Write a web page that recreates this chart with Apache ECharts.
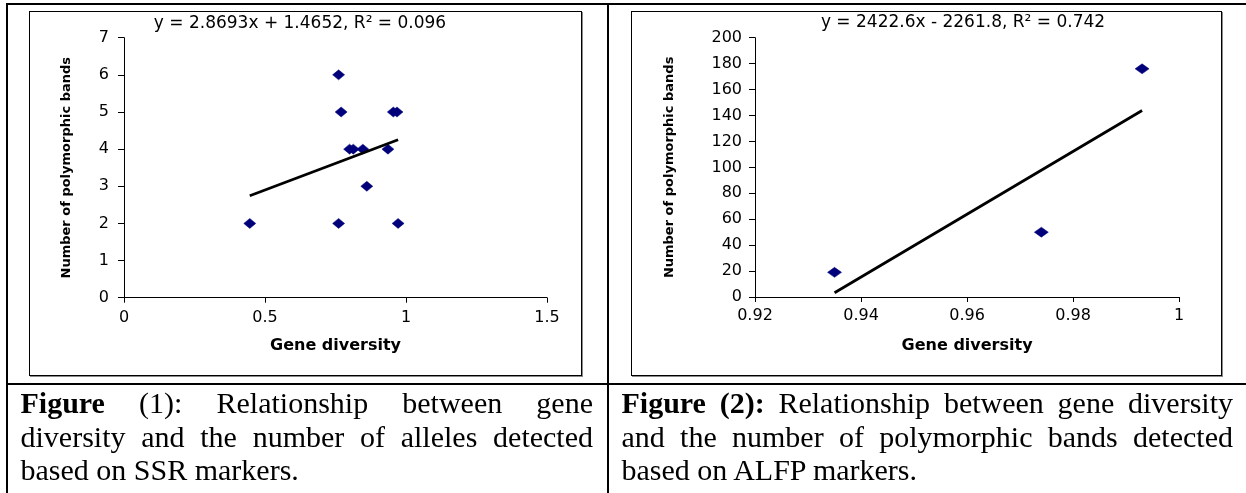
<!DOCTYPE html>
<html>
<head>
<meta charset="utf-8">
<script src="https://cdn.jsdelivr.net/npm/echarts@6/dist/echarts.min.js"></script>
<style>
  html, body { margin: 0; padding: 0; background: #fff; }
  body { width: 1246px; height: 493px; position: relative; overflow: hidden; }
  .ln { position: absolute; background: #000; }
  .frame { position: absolute; box-sizing: border-box; border: 1.6px solid #000; box-shadow: 1px 1px 0 #8a8a8a; }
  #chart { position: absolute; left: 0; top: 0; width: 1246px; height: 493px; z-index: 2; }
  .cap { position: absolute; font-family: "Liberation Serif", "Times New Roman", serif; font-size: 30px; line-height: 33.7px; color: #000; z-index: 3; }
  .cap .j { text-align: justify; text-align-last: justify; }
  .cap .l { text-align: left; }
</style>
</head>
<body>
<div class="ln" style="left:6px; top:3px; width:1240px; height:2px;"></div>
<div class="ln" style="left:6px; top:3px; width:2px; height:490px;"></div>
<div class="ln" style="left:606.5px; top:3px; width:2px; height:490px;"></div>
<div class="ln" style="left:6px; top:383px; width:1240px; height:2px;"></div>
<div class="frame" style="left:29px; top:11px; width:553px; height:365px;"></div>
<div class="frame" style="left:631px; top:11px; width:591px; height:365px;"></div>
<div id="chart"></div>
<div class="cap" style="left:20.5px; top:386px; width:572.5px;">
  <div class="j"><b>Figure</b> (1): Relationship between gene</div>
  <div class="j">diversity and the number of alleles detected</div>
  <div class="l">based on SSR markers.</div>
</div>
<div class="cap" style="left:621.5px; top:386px; width:611.5px;">
  <div class="j"><b>Figure (2):</b> Relationship between gene diversity</div>
  <div class="j">and the number of polymorphic bands detected</div>
  <div class="l">based on ALFP markers.</div>
</div>
<script>
// ---- Data ----
const ssrGeneDiversity = [0.446, 0.761, 0.770, 0.955, 0.968, 0.800, 0.813, 0.847, 0.936, 0.861, 0.761, 0.972];
const ssrBands = [2, 6, 5, 5, 5, 4, 4, 4, 4, 3, 2, 2];
const aflpGeneDiversity = [0.935, 0.974, 0.993];
const aflpBands = [19, 50, 176];
const trendSlope = [2.8693, 2422.6];
const trendIntercept = [1.4652, -2261.8];
const trendR2 = ['0.096', '0.742'];
const xAxisMin = [0, 0.92];
const xAxisMax = [1.5, 1.0];
const xAxisStep = [0.5, 0.02];
const yAxisMin = [0, 0];
const yAxisMax = [7, 200];
const yAxisStep = [1, 20];
const xAxisTitle = 'Gene diversity';
const yAxisTitle = 'Number of polymorphic bands';

// ---- Build ----
const xs = [ssrGeneDiversity, aflpGeneDiversity];
const ys = [ssrBands, aflpBands];

function pairs(a, b) { return a.map((v, i) => [v, b[i]]); }
function trend(k) {
  const lo = Math.min(...xs[k]), hi = Math.max(...xs[k]);
  return [lo, hi].map(x => [x, trendSlope[k] * x + trendIntercept[k]]);
}
function eqText(k) {
  const b = trendIntercept[k];
  return 'y = ' + trendSlope[k] + 'x ' + (b < 0 ? '- ' : '+ ') + Math.abs(b) + ', R² = ' + trendR2[k];
}

const tickFont = { color: '#000', fontFamily: 'DejaVu Sans', fontSize: 16 };
const nameFont = { color: '#000', fontFamily: 'DejaVu Sans', fontWeight: 'bold' };

const grids = [
  { left: 124, top: 37.7, width: 423, height: 260 },
  { left: 755, top: 37.7, width: 424.2, height: 259.3 }
];
const xNameGap = [40, 41];
const yNameGap = [51, 79];
const xLabelMargin = [12, 11];
const yLabelMargin = [15, 13];
const symSizes = [[12, 10], [14, 10]];

const option = {
  animation: false,
  backgroundColor: 'transparent',
  grid: grids,
  xAxis: [0, 1].map(k => ({
    type: 'value', gridIndex: k,
    min: xAxisMin[k], max: xAxisMax[k], interval: xAxisStep[k],
    name: xAxisTitle, nameLocation: 'middle', nameGap: xNameGap[k],
    nameTextStyle: Object.assign({ fontSize: 16 }, nameFont),
    axisLine: { show: true, onZero: false, lineStyle: { color: '#000', width: 1 } },
    axisTick: { show: true, length: 5, lineStyle: { color: '#000' } },
    axisLabel: Object.assign({ margin: xLabelMargin[k], formatter: v => String(+v.toFixed(2)) }, tickFont),
    splitLine: { show: false }
  })),
  yAxis: [0, 1].map(k => ({
    type: 'value', gridIndex: k,
    min: yAxisMin[k], max: yAxisMax[k], interval: yAxisStep[k],
    name: yAxisTitle, nameLocation: 'middle', nameGap: yNameGap[k],
    nameTextStyle: Object.assign({ fontSize: 13 }, nameFont),
    axisLine: { show: true, onZero: false, lineStyle: { color: '#000', width: 1 } },
    axisTick: { show: true, length: 6, lineStyle: { color: '#000' } },
    axisLabel: Object.assign({ margin: yLabelMargin[k] }, tickFont),
    splitLine: { show: false }
  })),
  series: [0, 1].flatMap(k => ([
    {
      type: 'scatter', xAxisIndex: k, yAxisIndex: k,
      data: pairs(xs[k], ys[k]),
      symbol: 'diamond', symbolSize: symSizes[k],
      itemStyle: { color: '#00007a', borderColor: '#00007a', borderWidth: 0.5, opacity: 1 }, z: 2
    },
    {
      type: 'line', xAxisIndex: k, yAxisIndex: k,
      data: trend(k), symbol: 'none',
      lineStyle: { color: '#000', width: 2.8 }, z: 3
    }
  ])),
  graphic: [
    { type: 'text', x: 300, y: 24, style: { text: eqText(0), fontFamily: 'DejaVu Sans', fontSize: 17, fill: '#000', textAlign: 'center', textVerticalAlign: 'middle' } },
    { type: 'text', x: 963, y: 23, style: { text: eqText(1), fontFamily: 'DejaVu Sans', fontSize: 17, fill: '#000', textAlign: 'center', textVerticalAlign: 'middle' } }
  ]
};

const chart = echarts.init(document.getElementById('chart'), null, { renderer: 'canvas' });
chart.setOption(option);
</script>
</body>
</html>
